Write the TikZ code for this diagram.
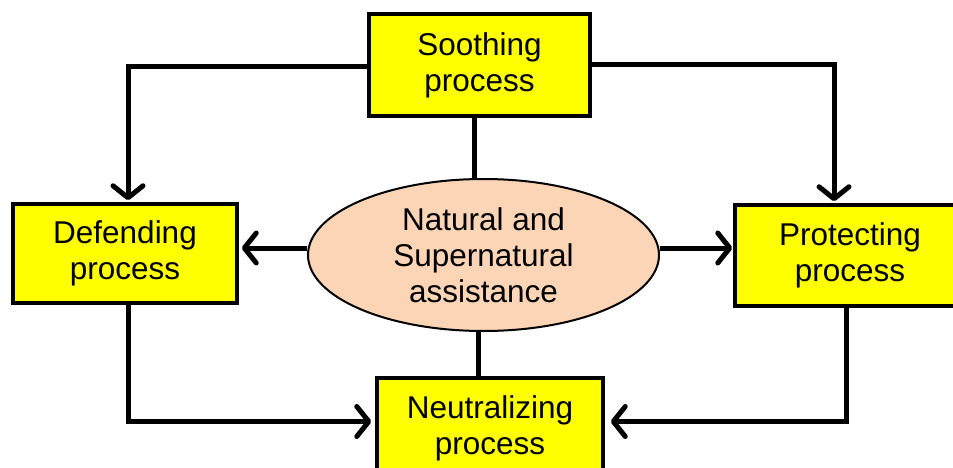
\documentclass[tikz,border=0pt]{standalone}
\usepackage{fontspec}
\setmainfont{Liberation Sans}
\usetikzlibrary{arrows.meta,shapes.geometric,backgrounds}

\definecolor{boxyellow}{HTML}{FFFF00}
\definecolor{peach}{HTML}{FBD5B5}

\tikzset{
  procbox/.style={draw=black, line width=3.5pt, fill=boxyellow, rectangle,
    align=center, inner sep=0pt,
    font=\fontsize{31.5}{36}\selectfont},
  hub/.style={draw=black, line width=2pt, fill=peach, ellipse, inner sep=0pt,
    align=center, minimum width=351pt, minimum height=152pt,
    font=\fontsize{31.5}{36}\selectfont},
  conn/.style={line width=5pt, draw=black, line join=miter},
  flow/.style={conn, -{Straight Barb[length=12pt,width=30pt,line cap=round,line join=round]}},
}

\begin{document}
\begin{tikzpicture}[x=1pt, y=-1pt]
  \useasboundingbox (0,0) rectangle (953,468);
  \clip (0,0) rectangle (953,468);

  % process boxes and the central hub
  \node[procbox, minimum width=221pt, minimum height=102pt] (sooth) at (479.5,65) {Soothing\\process};
  \node[procbox, minimum width=224pt, minimum height=99pt]  (def)   at (125,253.5) {Defending\\process};
  \node[procbox, minimum width=230pt, minimum height=101pt] (prot)  at (850,255.5) {Protecting\\process};
  \node[procbox, minimum width=226pt, minimum height=101pt] (neut)  at (490,428.5) {Neutralizing\\process};
  \node[hub] (hub) at (483.5,255) {Natural and\\Supernatural\\assistance};

  \begin{pgfonlayer}{background}
    % from the soothing process down to both sides
    \draw[flow, shorten >=2pt] ([yshift=-2pt]sooth.west) -| ([xshift=3pt]def.north);
    \draw[flow, shorten >=2pt] (sooth.east) -| ([xshift=-16pt]prot.north);
    % plain links through the hub
    \draw[conn] ([xshift=-5pt]sooth.south) -- ([xshift=-5pt]sooth.south |- hub.north);
    \draw[conn] ([xshift=-5pt]hub.south) -- ([xshift=-5pt]hub.south |- neut.north);
    % hub out to the side processes
    \draw[flow, shorten >=3pt] ([yshift=7pt]hub.west) -- ([yshift=7pt]hub.west -| def.east);
    \draw[flow, shorten >=1pt] ([yshift=7pt]hub.east) -- ([yshift=7pt]hub.east -| prot.west);
    % side processes into neutralizing
    \draw[flow, shorten >=4pt] ([xshift=3pt]def.south) |- ([yshift=7pt]neut.west);
    \draw[flow, shorten >=6pt] ([xshift=-4pt]prot.south) |- ([yshift=7pt]neut.east);
  \end{pgfonlayer}
\end{tikzpicture}
\end{document}
